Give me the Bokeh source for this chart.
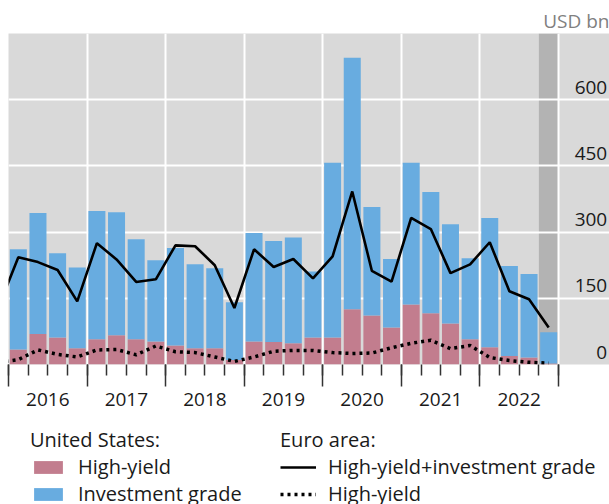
from bokeh.plotting import figure
from bokeh.layouts import column
from bokeh.models import (ColumnDataSource, Range1d, FixedTicker, LinearAxis, BoxAnnotation,
                          Legend, LegendItem, Grid, CustomJSTickFormatter)
from bokeh.core.properties import value
from bokeh.embed import file_html
from bokeh.resources import INLINE

# ---------------- data (USD bn, quarterly) ----------------
quarters = ["2016Q1", "2016Q2", "2016Q3", "2016Q4",
            "2017Q1", "2017Q2", "2017Q3", "2017Q4",
            "2018Q1", "2018Q2", "2018Q3", "2018Q4",
            "2019Q1", "2019Q2", "2019Q3", "2019Q4",
            "2020Q1", "2020Q2", "2020Q3", "2020Q4",
            "2021Q1", "2021Q2", "2021Q3", "2021Q4",
            "2022Q1", "2022Q2", "2022Q3", "2022Q4"]
us_high_yield = [34, 69, 61, 37, 57, 66, 57, 52, 43, 37, 37, 10, 52, 51,
                 48, 61, 61, 125, 111, 84, 136, 116, 93, 57, 39, 19, 16, 2]
us_investment_grade = [227, 274, 191, 183, 291, 279, 227, 184, 221, 190, 181, 131, 246, 229,
                       240, 150, 396, 570, 246, 155, 321, 275, 225, 184, 293, 204, 189, 71]

euro_quarters = ["2015Q4"] + quarters
euro_total = [131, 243, 232, 214, 143, 275, 238, 187, 193, 270, 268, 225, 128, 261, 221,
              239, 195, 245, 392, 212, 188, 332, 307, 207, 227, 277, 166, 148, 84]
euro_high_yield = [5, 11, 33, 23, 17, 33, 34, 22, 42, 29, 27, 17, 7, 17, 30,
                   32, 32, 27, 25, 26, 38, 48, 55, 36, 43, 16, 9, 5, 3]

year_labels = ["2016", "2017", "2018", "2019", "2020", "2021", "2022"]
y_tick_values = [0, 150, 300, 450, 600]
y_grid_values = [0, 150, 300, 450, 600, 750]
preliminary_quarter = "2022Q4"

# ---------------- helpers ----------------
def q_center(q):
    return int(q[:4]) + (int(q[-1]) - 0.5) / 4.0

def q_start(q):
    return int(q[:4]) + (int(q[-1]) - 1) / 4.0

FONT = "Open Sans"
FS = "19px"
LFS = "20px"
PINK = "#C27D8E"
BLUE = "#68ACE0"
TXT = "#1a1a1a"

first_year = int(year_labels[0])
last_year = int(year_labels[-1]) + 1

xs = [q_center(q) for q in quarters]
hy_top = list(us_high_yield)
ig_top = [a + b for a, b in zip(us_high_yield, us_investment_grade)]
src = ColumnDataSource(dict(x=xs, hy=hy_top, ig=ig_top, zero=[0] * len(xs)))
euro_src = ColumnDataSource(dict(x=[q_center(q) for q in euro_quarters],
                                 tot=euro_total, hy=euro_high_yield))

p = figure(width=609, height=420,
           x_range=Range1d(first_year, 2023.649), y_range=Range1d(0, 750),
           output_backend="svg", toolbar_location=None,
           x_axis_type=None, y_axis_type=None,
           min_border_left=8, min_border_right=0, min_border_top=33, min_border_bottom=56,
           background_fill_color="#D9D9D9", border_fill_color="white",
           outline_line_color=None)

# title as unit label
p.title.text = "USD bn"
p.title.align = "right"
p.title.text_font = FONT
p.title.text_font_size = FS
p.title.text_font_style = "normal"
p.title.text_color = "#808080"
p.title.standoff = 0

# shaded preliminary quarter
p.add_layout(BoxAnnotation(left=q_start(preliminary_quarter), right=last_year,
                           fill_color="#B3B3B3", fill_alpha=1.0, line_alpha=0,
                           level="image"))

# grids
year_bounds = list(range(first_year, last_year + 1))
p.add_layout(Grid(dimension=0, ticker=FixedTicker(ticks=year_bounds),
                  grid_line_color="white", grid_line_width=2))
p.add_layout(Grid(dimension=1, ticker=FixedTicker(ticks=y_grid_values),
                  grid_line_color="white", grid_line_width=2))

# bars (US)
bw = 0.2165
p.vbar(x="x", bottom="zero", top="hy", width=bw, source=src,
       fill_color=PINK, line_color=None)
p.vbar(x="x", bottom="hy", top="ig", width=bw, source=src,
       fill_color=BLUE, line_color=None)

# euro area lines
LINE_TOT = dict(line_color="black", line_width=2.6)
LINE_HY = dict(line_color="black", line_width=3.5, line_dash="3 4")
p.line(x="x", y="tot", source=euro_src, **LINE_TOT)
p.line(x="x", y="hy", source=euro_src, **LINE_HY)

# y labels inside the plot (right side)
p.text(x=[2023.62] * len(y_tick_values), y=y_tick_values,
       text=[str(v) for v in y_tick_values],
       text_align="right", text_baseline="bottom", y_offset=-6,
       text_font=value(FONT), text_font_size=FS, text_color=TXT)

# x axis: tick marks
quarter_bounds = [first_year + i / 4.0 for i in range((last_year - first_year) * 4 + 1)]
ax_ticks = LinearAxis(ticker=FixedTicker(ticks=year_bounds, minor_ticks=quarter_bounds),
                      formatter=CustomJSTickFormatter(code="return ''"),
                      major_label_text_font_size="0px",
                      major_label_standoff=0,
                      axis_line_color=None,
                      major_tick_in=0, major_tick_out=22,
                      minor_tick_in=0, minor_tick_out=11,
                      major_tick_line_color="#333333", major_tick_line_width=1.5,
                      minor_tick_line_color="#333333", minor_tick_line_width=1.5)
p.add_layout(ax_ticks, "below")

# x axis: year labels centred in each year
mid_years = [int(y) + 0.5 for y in year_labels]
ax_lab = LinearAxis(ticker=FixedTicker(ticks=mid_years, minor_ticks=[]),
                    major_label_overrides={m: lab for m, lab in zip(mid_years, year_labels)},
                    axis_line_color=None,
                    major_tick_in=0, major_tick_out=0, minor_tick_in=0, minor_tick_out=0,
                    major_label_standoff=6,
                    major_label_text_font=FONT, major_label_text_font_size=FS,
                    major_label_text_color=TXT)
p.add_layout(ax_lab, "below")

# ---------------- legend panel ----------------
lg = figure(width=609, height=84, x_range=Range1d(0, 1), y_range=Range1d(0, 1),
            output_backend="svg", toolbar_location=None,
            x_axis_type=None, y_axis_type=None,
            min_border_left=0, min_border_right=0, min_border_top=0, min_border_bottom=0,
            background_fill_color="white", border_fill_color="white",
            outline_line_color=None)
# key renderers: points placed outside the visible range (only the legend shows them)
key = ColumnDataSource(dict(x=[5, 6], y=[5, 5], t=[6, 6], b=[5, 5]))
k_hy = lg.vbar(x="x", top="t", bottom="b", width=0.1, source=key,
               fill_color=PINK, line_color=None)
k_ig = lg.vbar(x="x", top="t", bottom="b", width=0.1, source=key,
               fill_color=BLUE, line_color=None)
k_tot = lg.line(x="x", y="y", source=key, **LINE_TOT)
k_ehy = lg.line(x="x", y="y", source=key, **LINE_HY)

common = dict(background_fill_alpha=0, border_line_color=None, padding=0, margin=0,
              spacing=-2, glyph_width=36, glyph_height=16, label_standoff=12,
              label_text_font=FONT, label_text_font_size=LFS, label_text_color=TXT,
              title_text_font=FONT, title_text_font_size=LFS, title_text_font_style="normal",
              title_text_color=TXT, title_standoff=0, label_height=23)
leg_us = Legend(items=[LegendItem(label="High-yield", renderers=[k_hy]),
                       LegendItem(label="Investment grade", renderers=[k_ig])],
                title="United States:", location=(22, -3), **common)
leg_eu = Legend(items=[LegendItem(label="High-yield+investment grade", renderers=[k_tot]),
                       LegendItem(label="High-yield", renderers=[k_ehy])],
                title="Euro area:", location=(272, -3), **common)
lg.add_layout(leg_us)
lg.add_layout(leg_eu)

layout = column(p, lg, spacing=0)
open("out.html", "w").write(file_html(layout, INLINE))
